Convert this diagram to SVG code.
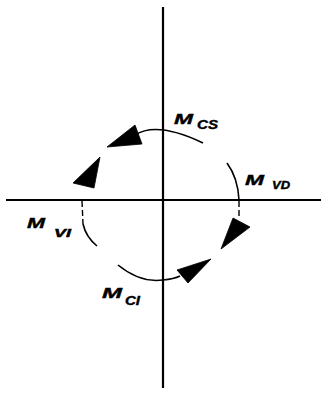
<svg xmlns="http://www.w3.org/2000/svg" width="321" height="393" viewBox="0 0 321 393">
<style>
.axis{stroke:#000;stroke-width:2.2;fill:none}
.arc{stroke:#000;stroke-width:1.6;fill:none}
.dash{stroke:#000;stroke-width:1.4;fill:none;stroke-dasharray:6 3}
.head{fill:#000;stroke:#000;stroke-width:0.8;stroke-linejoin:round}
.m{font-family:"Liberation Sans",Arial,sans-serif;font-weight:bold;font-style:italic;fill:#000;stroke:#000;stroke-width:0.4}
</style>
<rect width="321" height="393" fill="#fff"/>
<g id="connectors">
<line class="axis" x1="163" y1="7" x2="163" y2="388"/>
<line class="axis" x1="6" y1="200" x2="321" y2="200"/>
<path class="arc" d="M203,143 Q157,121 135,135"/>
<polygon class="head" points="107,147 135,125 142,144"/>
<polygon class="head" points="73,183 100,157 94,188"/>
<path class="arc" d="M227,163 Q238,178 239,200"/>
<line class="dash" x1="239" y1="201" x2="239" y2="218"/>
<polygon class="head" points="233,218 250,227 221,249"/>
<path class="arc" d="M118,265 Q140,283 163,280 Q174,279 180,276"/>
<polygon class="head" points="177,270 211,259 188,283"/>
<line class="dash" x1="82" y1="201" x2="83" y2="224"/>
<path class="arc" d="M83,224 Q86,237 97,246"/>
</g>
<g id="label-MCS"><text class="m" x="174" y="124" font-size="15" textLength="19" lengthAdjust="spacingAndGlyphs">M</text><text class="m" x="197" y="129" font-size="12" textLength="21" lengthAdjust="spacingAndGlyphs">CS</text></g>
<g id="label-MVD"><text class="m" x="245" y="185" font-size="15" textLength="19" lengthAdjust="spacingAndGlyphs">M</text><text class="m" x="272" y="189" font-size="10" textLength="18" lengthAdjust="spacingAndGlyphs">VD</text></g>
<g id="label-MVI"><text class="m" x="27" y="228" font-size="14" textLength="18" lengthAdjust="spacingAndGlyphs">M</text><text class="m" x="54" y="237" font-size="10" textLength="17" lengthAdjust="spacingAndGlyphs">VI</text></g>
<g id="label-MCI"><text class="m" x="102" y="298" font-size="15" textLength="20" lengthAdjust="spacingAndGlyphs">M</text><text class="m" x="125" y="305" font-size="12" textLength="15" lengthAdjust="spacingAndGlyphs">CI</text></g>
</svg>
